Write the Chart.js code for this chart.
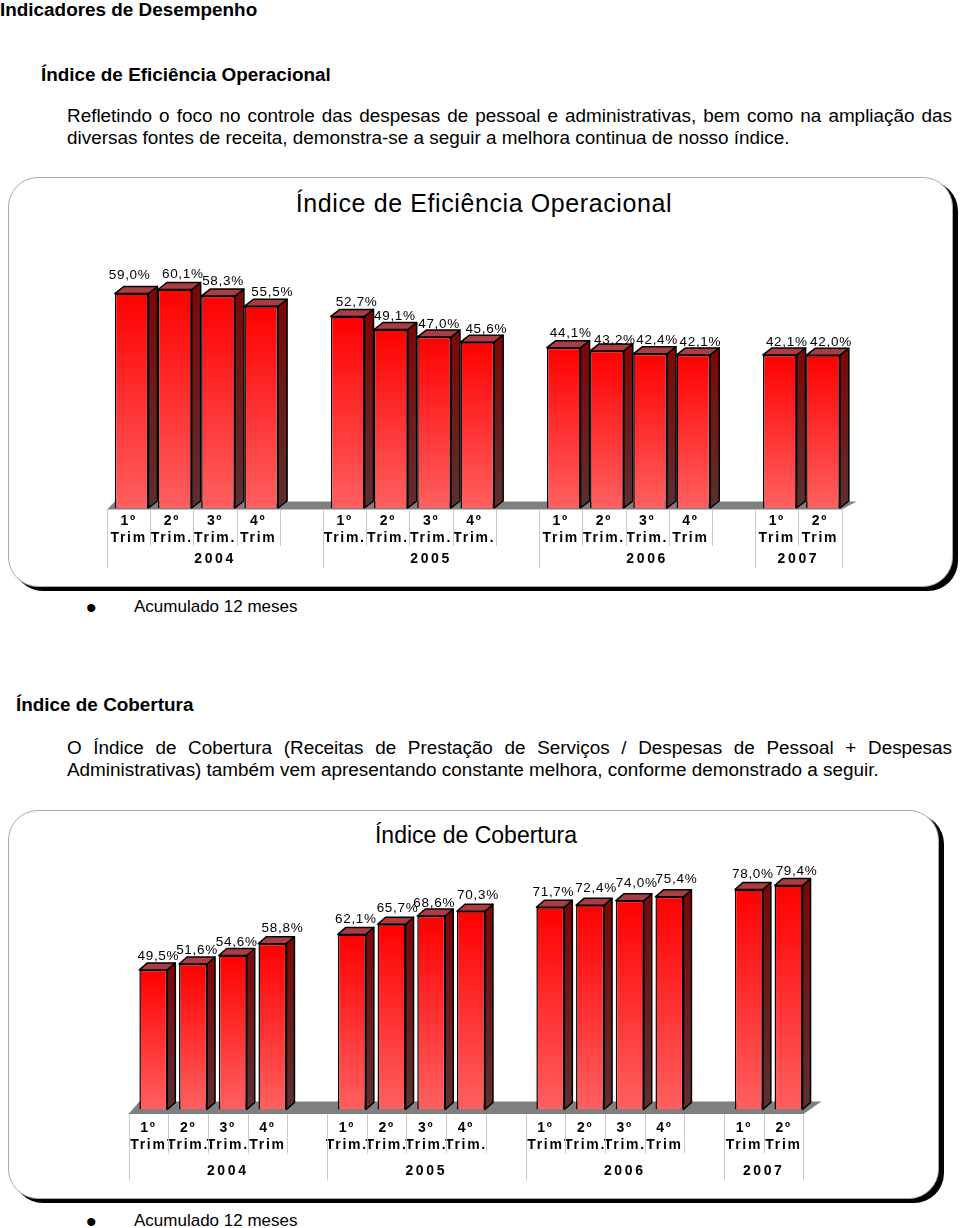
<!DOCTYPE html>
<html lang="pt">
<head>
	<meta charset="UTF-8">
	<title>Indicadores de Desempenho</title>
	<script src="https://cdn.jsdelivr.net/npm/chart.js"></script>
	<style>
		body { margin: 0; background: #fff; color: #000; font-family: "Liberation Sans", Arial, sans-serif; }
		#page { position: relative; width: 960px; height: 1228px; overflow: hidden; }
		.txt { position: absolute; white-space: nowrap; font-size: 18.9px; line-height: 22px; }
		.nota { font-size: 17px; }
		.bala { font-size: 30px; }
		.bold { font-weight: bold; }
		.just { white-space: normal; text-align: justify; text-align-last: justify; }
		.card { position: absolute; box-sizing: border-box; background: #fff; border: 1px solid #aaa; border-radius: 30px; box-shadow: 5px 4px 0 #000; }
		.charttitle { position: absolute; text-align: center; white-space: nowrap; line-height: 30px; }
		canvas { position: absolute; }
	</style>
</head>
<body>
<div id="page">
	<div class="txt bold" style="left:0;top:-1px;">Indicadores de Desempenho</div>
	<div class="txt bold" style="left:41px;top:64px;">Índice de Eficiência Operacional</div>
	<div class="txt just" style="left:67px;top:105px;width:885px;">Refletindo o foco no controle das despesas de pessoal e administrativas, bem como na ampliação das</div>
	<div class="txt" style="left:67px;top:127px;">diversas fontes de receita, demonstra-se a seguir a melhora continua de nosso índice.</div>

	<div class="card" style="left:8px;top:177px;width:945px;height:410px;"></div>
	<div class="charttitle" style="left:9px;top:188px;width:950px;font-size:25px;letter-spacing:0.6px;">Índice de Eficiência Operacional</div>
	<canvas id="chartEficiencia" width="950" height="408" style="left:9px;top:178px;"></canvas>

	<div class="txt bala" style="left:86px;top:597px;">•</div>
	<div class="txt nota" style="left:134px;top:596px;">Acumulado 12 meses</div>

	<div class="txt bold" style="left:16px;top:694px;">Índice de Cobertura</div>
	<div class="txt just" style="left:67px;top:737px;width:885px;">O Índice de Cobertura (Receitas de Prestação de Serviços / Despesas de Pessoal + Despesas</div>
	<div class="txt" style="left:67px;top:759px;">Administrativas) também vem apresentando constante melhora, conforme demonstrado a seguir.</div>

	<div class="card" style="left:8px;top:810px;width:931px;height:389px;"></div>
	<div class="charttitle" style="left:9px;top:820px;width:934px;font-size:23px;">Índice de Cobertura</div>
	<canvas id="chartCobertura" width="934" height="387" style="left:9px;top:811px;"></canvas>

	<div class="txt bala" style="left:86px;top:1211px;">•</div>
	<div class="txt nota" style="left:134px;top:1210px;">Acumulado 12 meses</div>
</div>

<script>
	// empty slots keep the gap between the years
	var trimestres = [
		["1º", "Trim"], ["2º", "Trim."], ["3º", "Trim."], ["4º", "Trim"], "",
		["1º", "Trim."], ["2º", "Trim."], ["3º", "Trim."], ["4º", "Trim."], "",
		["1º", "Trim"], ["2º", "Trim."], ["3º", "Trim."], ["4º", "Trim"], "",
		["1º", "Trim"], ["2º", "Trim"]
	];
	var anos = ["2004", "2005", "2006", "2007"];
	var anoSlots = [[0, 4], [5, 9], [10, 14], [15, 16]]; // the year name is centred over its gap too

	var eficiencia = [59.0, 60.1, 58.3, 55.5, null, 52.7, 49.1, 47.0, 45.6, null, 44.1, 43.2, 42.4, 42.1, null, 42.1, 42.0];
	var cobertura = [49.5, 51.6, 54.6, 58.8, null, 62.1, 65.7, 68.6, 70.3, null, 71.7, 72.4, 74.0, 75.4, null, 78.0, 79.4];

	// the value labels sit a bit unevenly in the original, nudge them one by one
	var eficienciaDx = [-2, 8, 5, 11, 0, 9, 4, 5, 9, 0, 7, 8, 7, 7, 0, 7, 8];
	var eficienciaDy = [-19.5, -16.5, -16, -15, 0, -15, -14.5, -14, -14, 0, -15.5, -12, -15, -14, 0, -14, -14];
	var coberturaDx = [5, 4, 4, 10, 0, 4, 6, 3, 7, 0, 3, 6, 7, 7, 0, 4, 8];
	var coberturaDy = [-15, -15, -14.5, -16, 0, -16, -17, -14, -17, 0, -16, -18, -19, -19, 0, -16.5, -15];

	function rotulo(v) {
		return v.toFixed(1).replace(".", ",") + "%";
	}

	// floor, 3D sides and tops of the bars, axis dividers, year names, value labels
	var barras3d = {
		id: "barras3d",
		beforeDraw: function(chart) {
			chart.ctx.letterSpacing = "1.7px"; // tick labels are spaced out
		},
		beforeDatasetsDraw: function(chart, args, o) {
			var ctx = chart.ctx;
			var base = chart.scales.y.getPixelForValue(0);
			var x = chart.scales.x;
			var bars = chart.getDatasetMeta(0).data;

			ctx.save();
			ctx.fillStyle = "#808080";
			ctx.beginPath();
			ctx.moveTo(x.left - o.shift, base + o.floorFront);
			ctx.lineTo(x.left - o.shift + o.floorLeft, base - o.floorBack);
			ctx.lineTo(x.right - o.shift + o.floorRight, base - o.floorBack);
			ctx.lineTo(x.right - o.shift, base + o.floorFront);
			ctx.closePath();
			ctx.fill();

			ctx.strokeStyle = "#000";
			ctx.lineWidth = 1.5;
			ctx.lineJoin = "round";
			for (var i = 0; i < bars.length; i++) {
				if (o.valores[i] === null) continue;
				var b = bars[i];
				var l = b.x - b.width / 2;
				var r = b.x + b.width / 2;

				var side = ctx.createLinearGradient(0, b.y, 0, b.base);
				side.addColorStop(0, "#7c0808");
				side.addColorStop(1, "#5c3030");
				ctx.fillStyle = side;
				ctx.beginPath();
				ctx.moveTo(r, b.y);
				ctx.lineTo(r + o.dx, b.y - o.dy);
				ctx.lineTo(r + o.dx, b.base - o.dy);
				ctx.lineTo(r, b.base);
				ctx.closePath();
				ctx.fill();
				ctx.stroke();

				ctx.fillStyle = "#aa3c42";
				ctx.beginPath();
				ctx.moveTo(l, b.y);
				ctx.lineTo(l + o.dx, b.y - o.dy);
				ctx.lineTo(r + o.dx, b.y - o.dy);
				ctx.lineTo(r, b.y);
				ctx.closePath();
				ctx.fill();
				ctx.stroke();
			}
			ctx.restore();
		},
		afterDraw: function(chart, args, o) {
			var ctx = chart.ctx;
			var x = chart.scales.x;
			var base = chart.scales.y.getPixelForValue(0);
			var slot = x.width / x.ticks.length;
			var bars = chart.getDatasetMeta(0).data;
			var i;

			function divisor(pos, comprimento) {
				var px = Math.round(pos) + 0.5;
				ctx.beginPath();
				ctx.moveTo(px, base + o.floorFront);
				ctx.lineTo(px, base + comprimento);
				ctx.stroke();
			}

			ctx.save();
			ctx.strokeStyle = "#c8c8c8";
			ctx.lineWidth = 1;
			anoSlots.forEach(function(s, n) {
				var first = x.getPixelForValue(s[0]) - slot / 2 - o.shift;
				var last = x.getPixelForValue(s[1]) + slot / 2 - o.shift;
				for (i = s[0]; i <= s[1]; i++) {
					divisor(first + (i - s[0]) * slot, i === s[0] ? o.longLine : o.shortLine);
				}
				if (n === anoSlots.length - 1) divisor(last, o.longLine);

				ctx.fillStyle = "#000";
				ctx.font = "bold 14px 'Liberation Sans'";
				ctx.letterSpacing = "2.6px";
				ctx.textAlign = "center";
				ctx.textBaseline = "middle";
				ctx.fillText(anos[n], (first + last) / 2, base + o.anoY);
			});

			ctx.fillStyle = "#000";
			ctx.font = "13.5px 'Liberation Sans'";
			ctx.letterSpacing = "0.7px";
			ctx.textAlign = "center";
			ctx.textBaseline = "middle";
			for (i = 0; i < bars.length; i++) {
				if (o.valores[i] === null) continue;
				ctx.fillText(rotulo(o.valores[i]), bars[i].x + o.labelDx[i], bars[i].y + o.labelDy[i] + 1);
			}
			ctx.restore();
		}
	};

	function gradienteBarra(context) {
		var v = context.raw;
		var y = context.chart.scales.y;
		if (v === null || v === undefined || !y) return "#ff0000";
		var topo = y.getPixelForValue(v);
		var fundo = y.getPixelForValue(0);
		// the scale has no pixels yet on the first pass
		if (!isFinite(topo) || !isFinite(fundo)) return "#ff0000";
		var g = context.chart.ctx.createLinearGradient(0, topo, 0, fundo);
		g.addColorStop(0, "#ff0000");
		g.addColorStop(1, "#ff6060");
		return g;
	}

	function desenha(id, valores, cfg) {
		var ctx = document.getElementById(id).getContext("2d");
		return new Chart(ctx, {
			type: "bar",
			data: {
				labels: trimestres,
				datasets: [{
					data: valores,
					backgroundColor: gradienteBarra,
					borderColor: "#000",
					borderWidth: 1.5,
					barPercentage: cfg.barPercentage,
					categoryPercentage: 1
				}]
			},
			options: {
				responsive: false,
				animation: false,
				layout: { padding: cfg.padding },
				plugins: {
					legend: { display: false },
					tooltip: { enabled: false },
					title: { display: false },
					barras3d: {
						valores: valores,
						labelDx: cfg.labelDx,
						labelDy: cfg.labelDy,
						shift: cfg.shift,
						dx: cfg.dx,
						dy: cfg.dy,
						floorFront: cfg.floorFront,
						floorBack: cfg.floorBack,
						floorLeft: cfg.floorLeft,
						floorRight: cfg.floorRight,
						shortLine: cfg.shortLine,
						longLine: cfg.longLine,
						anoY: cfg.anoY
					}
				},
				scales: {
					x: {
						grid: { display: false },
						border: { display: false },
						afterFit: function(scale) {
							scale.height = cfg.axisHeight;
							scale.paddingLeft = 0;
							scale.paddingRight = 0;
						},
						ticks: {
							autoSkip: false,
							maxRotation: 0,
							minRotation: 0,
							color: "#000",
							padding: cfg.tickPadding,
							labelOffset: -cfg.shift,
							font: { family: "Liberation Sans", size: 14, weight: "bold", lineHeight: 17 / 14 }
						}
					},
					y: {
						display: false,
						min: 0,
						max: cfg.yMax
					}
				}
			},
			plugins: [barras3d]
		});
	}

	desenha("chartEficiencia", eficiencia, {
		barPercentage: 0.78,
		padding: { left: 101, right: 114.4, top: 75.5, bottom: 0 },
		axisHeight: 78,
		yMax: 70,
		tickPadding: -3,
		shift: 3,
		dx: 9,
		dy: 7,
		floorFront: 1.5,
		floorBack: 6.5,
		floorLeft: 8,
		floorRight: 15,
		shortLine: 38,
		longLine: 60,
		anoY: 51,
		labelDx: eficienciaDx,
		labelDy: eficienciaDy
	});

	desenha("chartCobertura", cobertura, {
		barPercentage: 0.705,
		padding: { left: 124.5, right: 134.6, top: 44.7, bottom: 0 },
		axisHeight: 88.5,
		yMax: 90,
		tickPadding: 2,
		shift: 5,
		dx: 8,
		dy: 7,
		floorFront: 4.5,
		floorBack: 8,
		floorLeft: 11,
		floorRight: 18,
		shortLine: 44,
		longLine: 71,
		anoY: 61.5,
		labelDx: coberturaDx,
		labelDy: coberturaDy
	});
</script>
</body>
</html>
